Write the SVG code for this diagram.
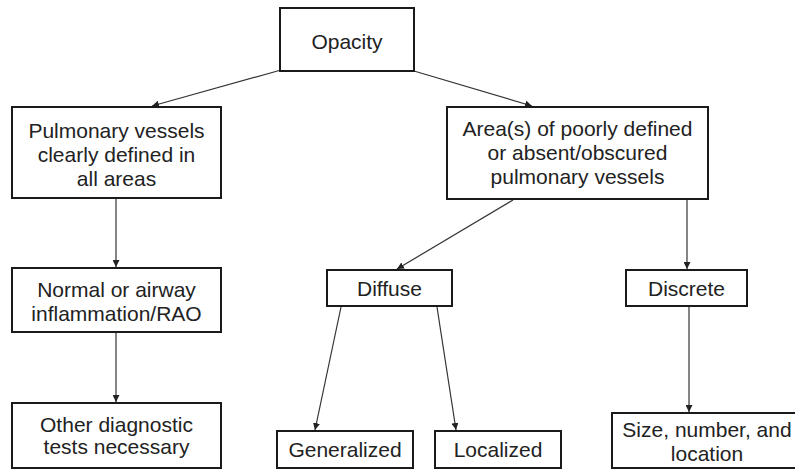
<svg xmlns="http://www.w3.org/2000/svg" width="795" height="470" viewBox="0 0 795 470">
<style>
.box{fill:#fff;stroke:#1a1a1a;stroke-width:2}
.t{font-family:"Liberation Sans",Arial,sans-serif;font-size:21px;fill:#222;text-anchor:middle}
.c{stroke:#333;stroke-width:1.2;fill:none;marker-end:url(#ah)}
</style>
<defs>
<marker id="ah" viewBox="0 0 10 10" refX="10" refY="5" markerWidth="7" markerHeight="7" markerUnits="userSpaceOnUse" orient="auto">
<path d="M0,0 L10,5 L0,10 z" fill="#222"/>
</marker>
</defs>
<rect width="795" height="470" fill="#fff"/>
<g id="connectors">
<line class="c" x1="281" y1="70" x2="152" y2="106"/>
<line class="c" x1="414" y1="71" x2="532" y2="106"/>
<line class="c" x1="116" y1="199" x2="116" y2="267"/>
<line class="c" x1="116" y1="333" x2="116" y2="402"/>
<line class="c" x1="513" y1="200" x2="397" y2="269"/>
<line class="c" x1="687" y1="200" x2="687" y2="269"/>
<line class="c" x1="341" y1="307" x2="315" y2="430"/>
<line class="c" x1="437" y1="307" x2="456" y2="430"/>
<line class="c" x1="689" y1="307" x2="689" y2="412"/>
</g>
<g id="opacity">
<rect class="box" x="280" y="8" width="134" height="63"/>
<text class="t" x="347" y="49">Opacity</text>
</g>
<g id="vessels-defined">
<rect class="box" x="12" y="107" width="209" height="91"/>
<text class="t" x="116.5" y="137.5">Pulmonary vessels</text>
<text class="t" x="116.5" y="161.5">clearly defined in</text>
<text class="t" x="116.5" y="185.5">all areas</text>
</g>
<g id="vessels-poor">
<rect class="box" x="447" y="107" width="261" height="92"/>
<text class="t" x="577.5" y="135.5">Area(s) of poorly defined</text>
<text class="t" x="577.5" y="159.5">or absent/obscured</text>
<text class="t" x="577.5" y="183.5">pulmonary vessels</text>
</g>
<g id="normal">
<rect class="box" x="12" y="268" width="209" height="64"/>
<text class="t" x="116.5" y="296.5">Normal or airway</text>
<text class="t" x="116.5" y="320.5">inflammation/RAO</text>
</g>
<g id="other-tests">
<rect class="box" x="12" y="403" width="209" height="65"/>
<text class="t" x="116.5" y="432">Other diagnostic</text>
<text class="t" x="116.5" y="454">tests necessary</text>
</g>
<g id="diffuse">
<rect class="box" x="327" y="270" width="125" height="36"/>
<text class="t" x="389.5" y="296">Diffuse</text>
</g>
<g id="discrete">
<rect class="box" x="626" y="270" width="121" height="36"/>
<text class="t" x="686.5" y="296">Discrete</text>
</g>
<g id="generalized">
<rect class="box" x="277" y="431" width="136" height="37"/>
<text class="t" x="345" y="457">Generalized</text>
</g>
<g id="localized">
<rect class="box" x="435" y="431" width="126" height="37"/>
<text class="t" x="498" y="457">Localized</text>
</g>
<g id="size">
<rect class="box" x="612" y="413" width="200" height="55"/>
<text class="t" x="707" y="437">Size, number, and</text>
<text class="t" x="707" y="461">location</text>
</g>
</svg>
